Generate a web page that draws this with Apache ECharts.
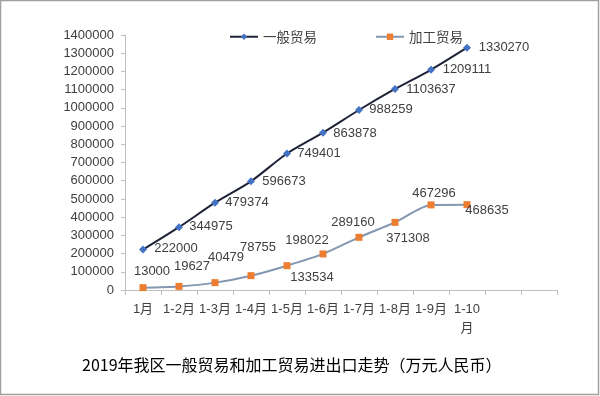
<!DOCTYPE html>
<html><head><meta charset="utf-8">
<script src="https://cdn.jsdelivr.net/npm/echarts@6/dist/echarts.min.js"></script>
<style>html,body{margin:0;padding:0;background:#fff}#c{width:600px;height:396px}</style>
</head><body><div id="c"></div>
<script>
var categories = ['1月','1-2月','1-3月','1-4月','1-5月','1-6月','1-7月','1-8月','1-9月','1-10月','',''];
var generalTrade = [222000,344975,479374,596673,749401,863878,988259,1103637,1209111,1330270];
var processingTrade = [13000,19627,40479,78755,133534,198022,289160,371308,467296,468635];
var yTicks = {min:0, max:1400000, interval:100000};
var titleText = '2019年我区一般贸易和加工贸易进出口走势（万元人民币）';

// label placement (style only)
var procLabelOffsets = [[9,-16],[13,-20],[11,-25],[7,-28],[25,12],[-16,-14],[-6,-15],[13,16],[3,-11],[20,6]];
var genLabelOffsets = [[33,-1],[32,-1],[32,0],[33,0],[32,0],[32,1],[32,-1],[36,0],[36,0],[37,0]];

var labelStyle = {color:'#404040', fontSize:13, fontFamily:'Liberation Sans, Arial, sans-serif'};

function buildData(vals, offs){
  return vals.map(function(v,i){
    return {value:v, label:{show:true, position:'inside', offset:offs[i]}};
  });
}

var chart = echarts.init(document.getElementById('c'));
chart.setOption({
  animation:false,
  backgroundColor:'#fff',
  graphic:[{type:'rect', shape:{x:0.5,y:0.5,width:598,height:394}, style:{fill:'none', stroke:'#a0a0a0', lineWidth:1.5}, z:-1},
           {type:'text', left:82, top:357, style:{text:titleText, fill:'#000', font:'16px "Noto Sans CJK SC", sans-serif'}}],
  legend:{
    left:224, top:25, itemWidth:28, itemHeight:8, itemGap:58,
    textStyle:{color:'#404040', fontSize:13.5, fontFamily:'"Noto Sans CJK SC", sans-serif'},
    data:['一般贸易','加工贸易']
  },
  grid:{left:125, right:43, top:35, bottom:106, containLabel:false},
  xAxis:{
    type:'category', data:categories, boundaryGap:true,
    axisLine:{lineStyle:{color:'#bfbfbf', width:1}},
    axisTick:{show:true, length:5, lineStyle:{color:'#bfbfbf'}},
    axisLabel:{color:'#404040', fontSize:13, margin:10, interval:0, lineHeight:19, fontFamily:'Liberation Sans, Arial, "Noto Sans CJK SC", sans-serif',
      formatter:function(v){ return v.length>4 ? v.slice(0,v.length-1)+'\n'+v.slice(-1) : v; }}
  },
  yAxis:{
    type:'value', min:yTicks.min, max:yTicks.max, interval:yTicks.interval,
    splitLine:{show:false},
    axisLine:{show:true, lineStyle:{color:'#bfbfbf'}},
    axisTick:{show:true, length:4, lineStyle:{color:'#bfbfbf'}},
    axisLabel:{color:'#404040', fontSize:13, margin:11, fontFamily:'Liberation Sans, Arial, sans-serif',
      formatter:function(v){ return String(v); }}
  },
  series:[
    {name:'一般贸易', type:'line', smooth:0.25, data:buildData(generalTrade, genLabelOffsets),
     symbol:'diamond', symbolSize:8, lineStyle:{color:'#1f2338', width:2},
     itemStyle:{color:'#4472c4'}, label:labelStyle},
    {name:'加工贸易', type:'line', smooth:0.25, data:buildData(processingTrade, procLabelOffsets),
     symbol:'rect', symbolSize:7, lineStyle:{color:'#8497b0', width:2},
     itemStyle:{color:'#ed7d31'}, label:labelStyle}
  ]
});
</script></body></html>
